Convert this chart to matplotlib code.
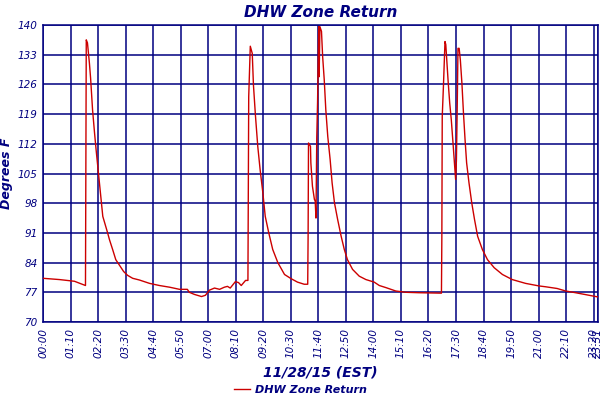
import matplotlib
matplotlib.use("Agg")
import matplotlib.pyplot as plt

NAVY = "#000080"
RED = "#cc0000"

# minutes since midnight, 11/28/15
minutes = [0, 42, 80, 108, 110, 113, 118, 121, 124, 126, 131, 135, 140, 144, 148,
           152, 164, 169, 177, 185, 195, 205, 215, 228, 245, 271, 296, 322, 347,
           367, 372, 385, 403, 413, 423, 436, 449, 461, 469, 476, 489, 497, 504,
           515, 521, 523, 527, 532, 535, 540, 546, 552, 559, 565, 574, 584, 597,
           614, 631, 647, 664, 673, 674, 675, 680, 681, 685, 690, 692, 694, 696,
           698, 701, 702, 704, 708, 711, 715, 719, 724, 730, 735, 741, 749, 758,
           766, 774, 787, 804, 821, 842, 855, 872, 897, 923, 956, 1007, 1013,
           1014, 1015, 1018, 1022, 1024, 1027, 1030, 1034, 1038, 1041, 1043, 1046,
           1049, 1051, 1053, 1055, 1058, 1061, 1065, 1069, 1073, 1077, 1083, 1090,
           1097, 1105, 1117, 1130, 1147, 1168, 1193, 1227, 1261, 1278, 1307, 1329,
           1354, 1388, 1411]
temps = [80.3, 80.0, 79.6, 78.6, 136.5, 135.8, 131.0, 127.5, 123.0, 120.0, 114.6,
         110.6, 106.0, 102.4, 98.7, 94.9, 91.1, 89.4, 87.1, 84.7, 83.3, 81.9, 81.0,
         80.3, 79.9, 79.1, 78.6, 78.2, 77.7, 77.7, 77.0, 76.5, 76.0, 76.3, 77.5,
         78.0, 77.7, 78.2, 78.4, 78.0, 79.5, 79.3, 78.6, 79.8, 79.8, 123.1, 135.0,
         133.3, 125.9, 118.8, 111.4, 105.9, 100.4, 94.9, 91.0, 87.1, 84.0, 81.2,
         80.2, 79.4, 78.9, 78.9, 90.4, 112.2, 111.4, 107.5, 102.0, 98.9, 98.5,
         94.5, 113.4, 121.6, 139.6, 127.8, 139.6, 138.5, 132.5, 127.1, 120.0,
         113.7, 108.3, 102.8, 98.1, 94.2, 90.2, 87.1, 84.7, 82.4, 80.8, 80.0, 79.4,
         78.6, 78.1, 77.3, 77.0, 76.9, 76.8, 76.8, 89.8, 118.4, 125.5, 136.1,
         135.4, 131.0, 126.7, 121.6, 117.7, 113.7, 111.4, 107.5, 103.6, 108.0,
         120.0, 134.5, 134.5, 131.8, 126.3, 119.2, 113.0, 107.5, 102.8, 98.1, 94.2,
         90.2, 87.1, 84.7, 82.8, 81.2, 80.0, 79.1, 78.5, 78.3, 77.9, 77.3, 76.9,
         76.3, 75.9]

y_ticks = [70, 77, 84, 91, 98, 105, 112, 119, 126, 133, 140]
x_ticks = [0, 70, 140, 210, 280, 350, 420, 490, 560, 630, 700, 770, 840, 910,
           980, 1050, 1120, 1190, 1260, 1330, 1400, 1411]
x_labels = ["00:00", "01:10", "02:20", "03:30", "04:40", "05:50", "07:00", "08:10",
            "09:20", "10:30", "11:40", "12:50", "14:00", "15:10", "16:20", "17:30",
            "18:40", "19:50", "21:00", "22:10", "23:20", "23:31"]

fig = plt.figure(figsize=(6, 4), dpi=100, facecolor="white")
ax = fig.add_axes([43 / 600, 78 / 400, 555 / 600, 297 / 400])

ax.plot(minutes, temps, color=RED, lw=1.0, label="DHW Zone Return", zorder=3)

ax.set_xlim(0, 1411)
ax.set_ylim(70, 140)
ax.set_yticks(y_ticks)
ax.set_xticks(x_ticks)
ax.set_xticklabels(x_labels, rotation=90)
ax.tick_params(length=0, colors=NAVY, labelsize=7.5, pad=4)
for lbl in ax.get_xticklabels() + ax.get_yticklabels():
    lbl.set_fontstyle("italic")
ax.grid(True, color=NAVY, lw=1.1)
for s in ax.spines.values():
    s.set_color(NAVY)
    s.set_linewidth(1.1)

ax.set_title("DHW Zone Return", color=NAVY, fontsize=11, fontweight="bold",
             style="italic", pad=6)
ax.set_ylabel("Degrees F", color=NAVY, fontsize=9, fontweight="bold",
              style="italic", labelpad=3)
ax.set_xlabel("11/28/15 (EST)", color=NAVY, fontsize=10, fontweight="bold",
              style="italic", labelpad=6)

leg = fig.legend(loc="center", bbox_to_anchor=(0.5, 10 / 400), frameon=False,
                 fontsize=8, handlelength=1.5, handletextpad=0.4)
for t in leg.get_texts():
    t.set_color(NAVY)
    t.set_fontweight("bold")
    t.set_fontstyle("italic")

fig.savefig("out.png", dpi=100, facecolor="white")
